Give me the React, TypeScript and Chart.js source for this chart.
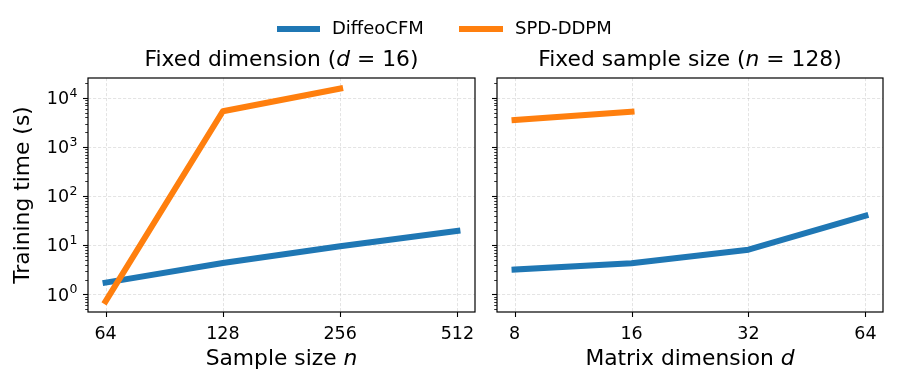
import React, { useEffect, useRef } from "react";
import { Chart, registerables } from "chart.js";
Chart.register(...registerables);

const W = 897;
const H = 387;

// ---- data ----
const sampleSizes = [64, 128, 256, 512];
const diffeoBySample = [1.73, 4.35, 9.5, 19.5];
const spdBySample = [0.72, 5330, 15400];
const matrixDims = [8, 16, 32, 64];
const diffeoByDim = [3.2, 4.3, 8.1, 40];
const spdByDim = [3550, 5250];
const yMajorTicks = [1, 10, 100, 1000, 10000];
const yExponents = ["0", "1", "2", "3", "4"];
const seriesNames = ["DiffeoCFM", "SPD-DDPM"];
const seriesColors = ["#1f77b4", "#ff7f0e"];

const FONT = '"DejaVu Sans", "Liberation Sans", sans-serif';
const LABEL_SIZE = 21.8;

const allY = [...diffeoBySample, ...spdBySample, ...diffeoByDim, ...spdByDim];
const lyMin = Math.log10(Math.min(...allY));
const lyMax = Math.log10(Math.max(...allY));
const ySpan = lyMax - lyMin;
const Y_MIN = Math.pow(10, lyMin - 0.05 * ySpan);
const Y_MAX = Math.pow(10, lyMax + 0.05 * ySpan);

function xRange(vals: number[]) {
  const a = Math.log2(Math.min(...vals));
  const b = Math.log2(Math.max(...vals));
  const m = 0.05 * (b - a);
  return [Math.pow(2, a - m), Math.pow(2, b + m)];
}

type Seg = { t: string; it?: boolean };

function drawRich(ctx: CanvasRenderingContext2D, segs: Seg[], x: number, y: number, size: number, align: "center" | "left") {
  const widths = segs.map((s) => {
    ctx.font = `${s.it ? "italic " : ""}${size}px ${FONT}`;
    return ctx.measureText(s.t).width;
  });
  const total = widths.reduce((a, b) => a + b, 0);
  let cx = align === "center" ? x - total / 2 : x;
  ctx.textAlign = "left";
  ctx.textBaseline = "alphabetic";
  segs.forEach((s, i) => {
    ctx.font = `${s.it ? "italic " : ""}${size}px ${FONT}`;
    ctx.fillText(s.t, cx, y);
    cx += widths[i];
  });
}

type PanelSpec = {
  xTicks: number[];
  title: Seg[];
  xLabel: Seg[];
  showYLabels: boolean;
  legend: boolean;
};

function makePlugin(p: PanelSpec) {
  return {
    id: "panelDecor",
    beforeDatasetsDraw(chart: any) {
      const { ctx, chartArea: a, scales } = chart;
      ctx.save();
      ctx.strokeStyle = "rgba(176,176,176,0.38)";
      ctx.lineWidth = 0.9;
      ctx.setLineDash([3.2, 1.8]);
      for (const v of p.xTicks) {
        const x = Math.round(scales.x.getPixelForValue(v)) + 0.5;
        ctx.beginPath();
        ctx.moveTo(x, a.top);
        ctx.lineTo(x, a.bottom);
        ctx.stroke();
      }
      for (const v of yMajorTicks) {
        const y = Math.round(scales.y.getPixelForValue(v)) + 0.5;
        ctx.beginPath();
        ctx.moveTo(a.left, y);
        ctx.lineTo(a.right, y);
        ctx.stroke();
      }
      ctx.restore();
    },
    afterDatasetsDraw(chart: any) {
      const { ctx, chartArea: a, scales } = chart;
      ctx.save();
      ctx.setLineDash([]);
      ctx.fillStyle = "#000";
      ctx.strokeStyle = "#000";
      // frame
      ctx.lineWidth = 1.2;
      ctx.strokeRect(a.left, a.top, a.right - a.left, a.bottom - a.top);
      // x ticks
      ctx.lineWidth = 1.1;
      for (const v of p.xTicks) {
        const x = Math.round(scales.x.getPixelForValue(v)) + 0.5;
        ctx.beginPath();
        ctx.moveTo(x, a.bottom);
        ctx.lineTo(x, a.bottom + 5);
        ctx.stroke();
      }
      ctx.font = `17.5px ${FONT}`;
      ctx.textAlign = "center";
      ctx.textBaseline = "alphabetic";
      for (const v of p.xTicks) {
        const x = scales.x.getPixelForValue(v);
        ctx.fillText(String(v), x, 338.5);
      }
      // y ticks major
      for (const v of yMajorTicks) {
        const y = Math.round(scales.y.getPixelForValue(v)) + 0.5;
        ctx.beginPath();
        ctx.moveTo(a.left, y);
        ctx.lineTo(a.left - 5, y);
        ctx.stroke();
      }
      // y ticks minor
      ctx.lineWidth = 0.8;
      for (let d = -2; d <= 5; d++) {
        for (let k = 2; k <= 9; k++) {
          const v = k * Math.pow(10, d);
          if (v < Y_MIN || v > Y_MAX) continue;
          const y = Math.round(scales.y.getPixelForValue(v)) + 0.5;
          ctx.beginPath();
          ctx.moveTo(a.left, y);
          ctx.lineTo(a.left - 2.8, y);
          ctx.stroke();
        }
      }
      if (p.showYLabels) {
        yMajorTicks.forEach((v, i) => {
          const y = scales.y.getPixelForValue(v);
          ctx.font = `17.5px ${FONT}`;
          const wBase = ctx.measureText("10").width;
          ctx.font = `12.5px ${FONT}`;
          const wExp = ctx.measureText(yExponents[i]).width;
          const right = a.left - 11;
          const x0 = right - wBase - wExp;
          ctx.textAlign = "left";
          ctx.font = `17.5px ${FONT}`;
          ctx.fillText("10", x0, y + 6.2);
          ctx.font = `12.5px ${FONT}`;
          ctx.fillText(yExponents[i], x0 + wBase + 0.5, y - 1.3);
        });
        // y axis title
        ctx.save();
        ctx.translate(29, (a.top + a.bottom) / 2);
        ctx.rotate(-Math.PI / 2);
        ctx.font = `${LABEL_SIZE}px ${FONT}`;
        ctx.textAlign = "center";
        ctx.fillText("Training time (s)", 0, 0);
        ctx.restore();
      }
      // x label
      drawRich(ctx, p.xLabel, (a.left + a.right) / 2, 365, LABEL_SIZE, "center");
      // title
      drawRich(ctx, p.title, (a.left + a.right) / 2, 65.7, LABEL_SIZE, "center");
      // legend
      if (p.legend) {
        const items = [
          { x0: 277, x1: 320, tx: 332 },
          { x0: 459, x1: 503, tx: 515 },
        ];
        items.forEach((it, i) => {
          ctx.strokeStyle = seriesColors[i];
          ctx.lineWidth = 6;
          ctx.lineCap = "butt";
          ctx.beginPath();
          ctx.moveTo(it.x0, 29);
          ctx.lineTo(it.x1, 29);
          ctx.stroke();
          ctx.fillStyle = "#000";
          ctx.font = `18px ${FONT}`;
          ctx.textAlign = "left";
          ctx.fillText(seriesNames[i], it.tx, 34.3);
        });
      }
      ctx.restore();
    },
  };
}

function makeConfig(
  xs: number[],
  series: number[][],
  area: { left: number; right: number },
  spec: PanelSpec
): any {
  const [xMin, xMax] = xRange(xs);
  return {
    type: "line",
    data: {
      datasets: series.map((vals, i) => ({
        label: seriesNames[i],
        data: vals.map((y, j) => ({ x: xs[j], y })),
        borderColor: seriesColors[i],
        backgroundColor: seriesColors[i],
        borderWidth: 6,
        borderCapStyle: "square",
        borderJoinStyle: "round",
        pointRadius: 0,
        tension: 0,
        fill: false,
        order: series.length - i,
      })),
    },
    options: {
      responsive: false,
      animation: false,
      events: [],
      layout: {
        padding: { left: area.left, right: W - area.right, top: 78, bottom: H - 312 },
      },
      plugins: { legend: { display: false }, tooltip: { enabled: false } },
      scales: {
        x: { type: "logarithmic", min: xMin, max: xMax, display: false },
        y: { type: "logarithmic", min: Y_MIN, max: Y_MAX, display: false },
      },
    },
    plugins: [makePlugin(spec)],
  };
}

export default function App() {
  const leftRef = useRef<HTMLCanvasElement>(null);
  const rightRef = useRef<HTMLCanvasElement>(null);

  useEffect(() => {
    const left = new Chart(
      leftRef.current as HTMLCanvasElement,
      makeConfig(sampleSizes, [diffeoBySample, spdBySample], { left: 88, right: 475 }, {
        xTicks: sampleSizes,
        title: [{ t: "Fixed dimension (" }, { t: "d", it: true }, { t: " = 16)" }],
        xLabel: [{ t: "Sample size " }, { t: "n", it: true }],
        showYLabels: true,
        legend: true,
      })
    );
    const right = new Chart(
      rightRef.current as HTMLCanvasElement,
      makeConfig(matrixDims, [diffeoByDim, spdByDim], { left: 497, right: 883 }, {
        xTicks: matrixDims,
        title: [{ t: "Fixed sample size (" }, { t: "n", it: true }, { t: " = 128)" }],
        xLabel: [{ t: "Matrix dimension " }, { t: "d", it: true }],
        showYLabels: false,
        legend: false,
      })
    );
    return () => {
      left.destroy();
      right.destroy();
    };
  }, []);

  const cs: React.CSSProperties = { position: "absolute", left: 0, top: 0, width: W, height: H, display: "block" };
  return (
    <div style={{ position: "fixed", left: 0, top: 0, width: W, height: H, background: "#fff" }}>
      <canvas ref={leftRef} width={W} height={H} style={cs} />
      <canvas ref={rightRef} width={W} height={H} style={cs} />
    </div>
  );
}
